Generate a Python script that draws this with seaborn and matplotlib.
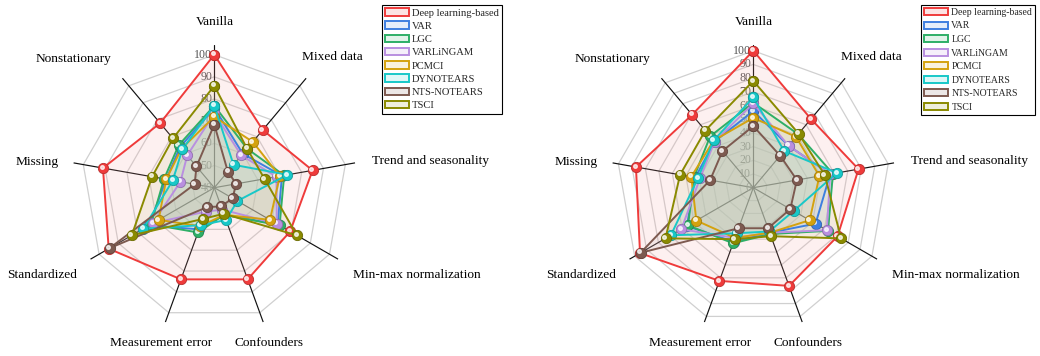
import numpy as np
import pandas as pd
import seaborn as sns
import matplotlib.pyplot as plt
from matplotlib.patches import Patch
from matplotlib.colors import to_rgba
from matplotlib.transforms import offset_copy

# Các trục của biểu đồ radar (theo chiều kim đồng hồ, bắt đầu từ trên)
scenarios = ["Vanilla", "Mixed data", "Trend and seasonality", "Min-max normalization",
             "Confounders", "Measurement error", "Standardized", "Missing", "Nonstationary"]
methods = ["Deep learning-based", "VAR", "LGC", "VARLiNGAM", "PCMCI",
           "DYNOTEARS", "NTS-NOTEARS", "TSCI"]
colors = ["#EF3B3B", "#3E7FE0", "#2EAF67", "#B98FE0", "#D4A20F",
          "#18C8C8", "#7D5A50", "#8A8A00"]

# Biểu đồ bên trái (thang 40 - 100)
left_ticks = [40, 50, 60, 70, 80, 90, 100]
left_deep = [100, 74, 85, 79.5, 84, 84, 95, 91, 78]
left_var = [76, 60, 71, 73, 53, 60, 74, 62, 64]
left_lgc = [77, 63, 72, 74, 53, 61.5, 73, 63, 65]
left_varlingam = [73.5, 59, 68.5, 72.5, 50.5, 51.5, 72, 55.5, 59]
left_pcmci = [72, 67, 70, 69, 53, 58.5, 69, 62, 63]
left_dynotears = [77, 53.5, 73.5, 52, 55.5, 58, 77, 59, 62.5]
left_nts = [68.5, 49.5, 50, 49.5, 49, 49.3, 94.5, 49, 52.5]
left_tsci = [86, 63, 63, 83, 52.5, 55, 83, 68.5, 69]

# Biểu đồ bên phải (thang 0 - 100)
right_ticks = [0, 10, 20, 30, 40, 50, 60, 70, 80, 90, 100]
right_deep = [100, 65.5, 78, 71, 76.3, 72.4, 95.5, 87, 69.5]
right_var = [56, 40, 57, 52.5, 35, 42, 56, 43, 44]
right_lgc = [62, 51, 59, 63, 36, 43.2, 55, 44, 49]
right_varlingam = [61.5, 40, 57, 62, 35, 39, 60.7, 39.5, 44]
right_pcmci = [51, 48.5, 49, 47.5, 35, 39, 48, 46, 45]
right_dynotears = [66, 35, 62, 34, 34, 35.4, 69.5, 41, 45]
right_nts = [45, 30.5, 32.3, 31.2, 31.5, 31.5, 95, 32, 35]
right_tsci = [78, 51.5, 53, 74, 37.7, 40, 74, 54.3, 54.5]

left_data = [left_deep, left_var, left_lgc, left_varlingam, left_pcmci,
             left_dynotears, left_nts, left_tsci]
right_data = [right_deep, right_var, right_lgc, right_varlingam, right_pcmci,
              right_dynotears, right_nts, right_tsci]

sns.set_style("white")
plt.rcParams["font.family"] = ["Liberation Serif", "DejaVu Serif"]

W, H = 1040, 356
fig = plt.figure(figsize=(W / 100, H / 100), dpi=100)

n = len(scenarios)
theta = np.linspace(0, 2 * np.pi, n, endpoint=False)
theta_closed = np.append(theta, theta[0])

# vị trí nhãn trục so với tâm (pixel)
label_pos = [(0.7, -166, "center"), (87.4, -131, "left"), (157.4, -26.7, "left"),
             (138.4, 87.3, "left"), (20, 155.6, "left"), (-2.6, 155.6, "right"),
             (-137.6, 87.3, "right"), (-156, -26, "right"), (-102.6, -128.7, "right")]


def mix(c, f):
    # trộn màu với trắng
    r, g, b, a = to_rgba(c)
    return (1 - (1 - r) * f, 1 - (1 - g) * f, 1 - (1 - b) * f)


def darker(c, f=0.78):
    r, g, b, a = to_rgba(c)
    return (r * f, g * f, b * f, 1)


def ve_radar(cx, cy, R, rmin, rspoke, ticks, data, legend_x, leg_fs, leg_ls, leg_hl):
    ax = fig.add_axes([(cx - R) / W, (H - cy - R) / H, 2 * R / W, 2 * R / H],
                      projection="polar")
    ax.set_theta_offset(np.pi / 2)
    ax.set_theta_direction(-1)
    ax.set_ylim(rmin, rspoke)
    ax.axis("off")

    # lưới đa giác
    for t in ticks[1:]:
        ax.plot(theta_closed, [t] * (n + 1), color="#D0D0D0", lw=0.9, zorder=0.5)
    for a in theta:
        ax.plot([a, a], [rmin, rspoke], color="#111111", lw=0.85, zorder=0.6)
    tr = offset_copy(ax.transData, fig=fig, x=-2, y=0, units="dots")
    for t in ticks:
        ax.text(0, t, str(t), ha="right", va="center", fontsize=8.6,
                color="#555555", transform=tr, zorder=0.7)

    hl = offset_copy(ax.transData, fig=fig, x=-1.3, y=1.3, units="dots")
    for i, (m, c) in enumerate(zip(methods, colors)):
        vals = np.append(data[i], data[i][0])
        ax.fill(theta_closed, vals, color=mix(c, 0.5), alpha=0.15, lw=0, zorder=1)
        df = pd.DataFrame({"theta": theta_closed, "value": vals})
        sns.lineplot(data=df, x="theta", y="value", sort=False, estimator=None,
                     color=c, lw=1.4, marker="o", markersize=7.4,
                     markeredgecolor=darker(c), markeredgewidth=0.6,
                     ax=ax, zorder=2 + i * 0.1)
        ax.plot(theta, data[i], ls="none", marker="o", markersize=2.6,
                color="white", alpha=0.75, transform=hl, zorder=2.05 + i * 0.1)

    for (dx, dy, ha), name in zip(label_pos, scenarios):
        fig.text((cx + dx) / W, 1 - (cy + dy) / H, name, ha=ha, va="center",
                 fontsize=9.6, color="black")

    handles = [Patch(facecolor=to_rgba(mix(c, 0.4), 0.35), edgecolor=c, lw=1.4)
               for c in colors]
    leg = fig.legend(handles, methods, loc="upper left",
                     bbox_to_anchor=(legend_x / W, 1 - 5 / H), frameon=True,
                     fancybox=False, edgecolor="black", framealpha=1,
                     fontsize=leg_fs, handlelength=leg_hl, handleheight=0.72,
                     handletextpad=0.3, labelspacing=leg_ls, borderpad=0.3,
                     borderaxespad=0)
    leg.get_frame().set_linewidth(0.8)


ve_radar(214.3, 187.7, 143, 40, 104.5, left_ticks, left_data, 381.7, 7.6, 0.36, 2.27)
ve_radar(753.3, 187.7, 143, 0, 104.4, right_ticks, right_data, 920.7, 7.0, 0.47, 2.55)

plt.savefig("out.png", dpi=100)
